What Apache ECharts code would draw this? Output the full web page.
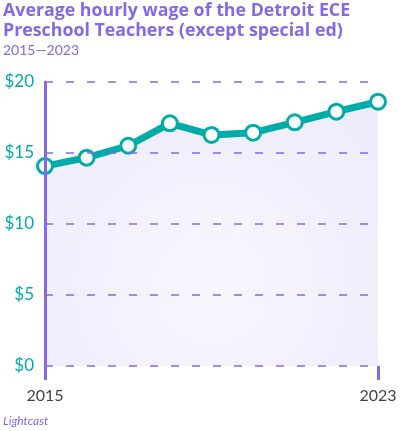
<!DOCTYPE html>
<html>
<head>
<meta charset="utf-8">
<script src="https://cdn.jsdelivr.net/npm/echarts@6/dist/echarts.min.js"></script>
<style>
  html, body { margin: 0; padding: 0; background: #fff; }
  #chart { width: 401px; height: 431px; }
</style>
</head>
<body>
<div id="chart"></div>
<script>
  // data
  const years = ['2015', '2016', '2017', '2018', '2019', '2020', '2021', '2022', '2023'];
  const wages = [14.08, 14.67, 15.51, 17.09, 16.27, 16.43, 17.16, 17.91, 18.61];
  const yTicks = [0, 5, 10, 15, 20];

  const purple = '#8368e8';
  const teal = '#00aca8';

  const chart = echarts.init(document.getElementById('chart'));

  chart.setOption({
    animation: false,
    title: {
      text: 'Average hourly wage of the Detroit ECE\nPreschool Teachers (except special ed)',
      subtext: '2015\u20142023',
      left: 3,
      top: 1,
      itemGap: 2,
      textStyle: {
        fontFamily: 'Open Sans',
        fontWeight: 'bold',
        fontSize: 17.8,
        lineHeight: 20,
        color: purple
      },
      subtextStyle: {
        fontFamily: 'Lato',
        fontSize: 14,
        color: purple
      },
      padding: 0
    },
    graphic: [{
      type: 'text',
      left: 3,
      top: 415,
      style: {
        text: 'Lightcast',
        font: 'italic 12px Lato',
        fill: purple
      }
    }],
    grid: { left: 45, right: 23, top: 82, bottom: 65 },
    xAxis: {
      type: 'category',
      data: years,
      boundaryGap: false,
      z: 5,
      axisLine: { show: false },
      axisTick: {
        show: true,
        length: 14,
        interval: (i) => i === 0 || i === years.length - 1,
        lineStyle: { color: purple, width: 3 }
      },
      axisLabel: {
        interval: (i) => i === 0 || i === years.length - 1,
        margin: 22,
        fontFamily: 'Lato',
        fontSize: 16,
        color: '#444'
      },
      splitLine: { show: false },
      splitArea: { show: false }
    },
    yAxis: {
      type: 'value',
      min: yTicks[0],
      max: yTicks[yTicks.length - 1],
      interval: 5,
      z: 5,
      axisLine: { show: true, lineStyle: { color: purple, width: 3 } },
      axisTick: { show: false },
      axisLabel: {
        formatter: (v) => '$' + v,
        margin: 11,
        fontFamily: 'Lato',
        fontSize: 17,
        color: teal
      },
      splitLine: {
        show: true,
        lineStyle: { color: purple, width: 1.5, type: [8, 13] }
      }
    },
    series: [{
      type: 'line',
      data: wages,
      symbol: 'circle',
      symbolSize: 15,
      lineStyle: { color: teal, width: 7 },
      itemStyle: { color: '#fff', borderColor: teal, borderWidth: 3 },
      areaStyle: {
        color: {
          type: 'radial', x: 0.5, y: 0.7, r: 0.8,
          colorStops: [
            { offset: 0, color: '#f8f6fe' },
            { offset: 1, color: '#efecfc' }
          ]
        },
        opacity: 1
      },
      z: 3
    }]
  });
</script>
</body>
</html>
